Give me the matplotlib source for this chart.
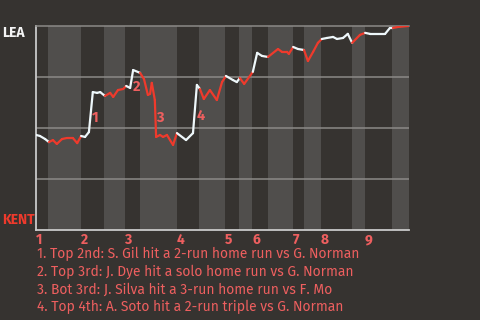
import matplotlib.pyplot as plt
import numpy as np
from matplotlib.collections import LineCollection

# ----------------------------------------------------------------
# Data
# ----------------------------------------------------------------
# play sequence position and LEA win probability after each play
play = [0, 0.9, 2.1, 3.0, 3.9, 4.8, 6.0, 7.1, 8.5, 9.5,
        10.4, 11.3, 12.2, 13.1, 14.1, 14.8, 15.9, 17.1, 17.8, 18.9,
        20.1, 20.8, 21.7, 22.4, 24.0, 24.9, 25.8, 26.3, 26.7, 27.4,
        27.7, 28.6, 29.3, 30.2, 30.9, 31.6, 32.5, 34.6, 36.2, 37.1,
        37.8, 38.7, 40.1, 41.7, 42.9, 43.8, 45.4, 46.3, 47.0, 48.0,
        50.0, 51.0, 52.1, 53.5, 55.8, 56.7, 57.9, 58.3, 59.3, 60.4,
        61.8, 62.7, 63.9, 65.0, 65.9, 67.1, 68.5, 69.4, 70.8, 71.9,
        72.9, 74.7, 75.9, 77.0, 80.5, 81.6, 82.3, 83.5, 86.0]
win_prob = [0.466, 0.461, 0.446, 0.431, 0.441, 0.422, 0.446, 0.451, 0.451, 0.426,
            0.461, 0.456, 0.480, 0.676, 0.672, 0.676, 0.657, 0.672, 0.652, 0.686,
            0.691, 0.706, 0.696, 0.784, 0.770, 0.740, 0.662, 0.667, 0.721, 0.637,
            0.456, 0.466, 0.456, 0.466, 0.441, 0.417, 0.475, 0.441, 0.475, 0.711,
            0.691, 0.642, 0.686, 0.637, 0.725, 0.755, 0.735, 0.725, 0.745, 0.716,
            0.775, 0.868, 0.853, 0.848, 0.887, 0.873, 0.873, 0.863, 0.897, 0.887,
            0.882, 0.828, 0.873, 0.917, 0.936, 0.941, 0.946, 0.936, 0.941, 0.961,
            0.917, 0.956, 0.966, 0.961, 0.961, 0.990, 0.990, 0.995, 1.0]

# where each half inning starts (top 1, bot 1, top 2, ...)
half_starts = [0, 2.8, 10.3, 15.7, 20.5, 23.9, 32.4, 37.7, 43.5, 46.9,
               49.9, 53.4, 59.2, 61.7, 65.7, 72.8, 75.8, 82.0]
game_end = 86.0
innings = ["1", "2", "3", "4", "5", "6", "7", "8", "9"]

# key plays: marker label, play position, label height
key_labels = ["1", "2", "3", "4"]
key_play = [13.6, 23.3, 28.6, 38.0]
key_y = [0.549, 0.700, 0.549, 0.559]

notes = [
    "1. Top 2nd: S. Gil hit a 2-run home run vs G. Norman",
    "2. Top 3rd: J. Dye hit a solo home run vs G. Norman",
    "3. Bot 3rd: J. Silva hit a 3-run home run vs F. Mo",
    "4. Top 4th: A. Soto hit a 2-run triple vs G. Norman",
]

# ----------------------------------------------------------------
# Styling
# ----------------------------------------------------------------
BG = "#363330"
BAND = "#504e4c"
GRID = "#8c8a87"
RED = "#ee3a2c"
WHITE = "#eef7fa"
TEXT_RED = "#ee5f5f"
FONT = ["Fira Sans", "Noto Sans", "DejaVu Sans"]

plt.rcParams["font.family"] = FONT

fig = plt.figure(figsize=(4.8, 3.2), dpi=100, facecolor=BG)
ax = fig.add_axes([0.075, 0.281, 0.777, 0.638])
ax.set_facecolor(BG)

# --- bottom-half bands ---
bounds = half_starts + [game_end]
for i in range(1, len(half_starts), 2):
    ax.axvspan(bounds[i], bounds[i + 1], color=BAND, lw=0, zorder=0)

# --- grid ---
for g in [0.25, 0.5, 0.75]:
    ax.axhline(g, color=GRID, lw=1.1, zorder=1)

# --- win probability line, coloured by half inning ---
x = np.array(play)
y = np.array(win_prob)
segs = np.stack([np.column_stack([x[:-1], y[:-1]]),
                 np.column_stack([x[1:], y[1:]])], axis=1)
half_idx = np.searchsorted(half_starts, x[:-1], side="right") - 1
colors = [WHITE if h % 2 == 0 else RED for h in half_idx]
lc = LineCollection(segs, colors=colors, linewidths=1.6, zorder=3,
                    capstyle="round", joinstyle="round")
ax.add_collection(lc)

for lab, px, py in zip(key_labels, key_play, key_y):
    ax.text(px, py, lab, color=TEXT_RED, fontsize=10.5, fontweight="bold",
            ha="center", va="center", zorder=4)

ax.set_xlim(0, game_end)
ax.set_ylim(0, 1)

# --- spines ---
ax.spines["right"].set_visible(False)
ax.spines["top"].set_color(GRID)
ax.spines["top"].set_linewidth(1.1)
ax.spines["left"].set_color("#c9c9c9")
ax.spines["bottom"].set_color("#c9c9c9")
ax.spines["left"].set_linewidth(1.3)
ax.spines["bottom"].set_linewidth(1.3)

# --- inning ticks at start of each top half ---
ax.set_xticks(half_starts[0::2])
ax.set_xticklabels(innings, color=TEXT_RED, fontsize=10, fontweight="bold", ha="left")
ax.tick_params(axis="x", length=0, pad=2)
ax.set_yticks([])

# --- team labels ---
ax.text(-0.091, 0.966, "LEA", transform=ax.transAxes, color="#f4f4f4",
        fontsize=10, fontweight="bold", ha="left", va="center")
ax.text(-0.091, 0.049, "KENT", transform=ax.transAxes, color=RED,
        fontsize=10, fontweight="bold", ha="left", va="center")

# --- notes ---
for i, line in enumerate(notes):
    fig.text(0.077, 0.206 - i * 0.0555, line, color=TEXT_RED, fontsize=10,
             ha="left", va="center")

fig.savefig("out.png", dpi=100, facecolor=BG)
